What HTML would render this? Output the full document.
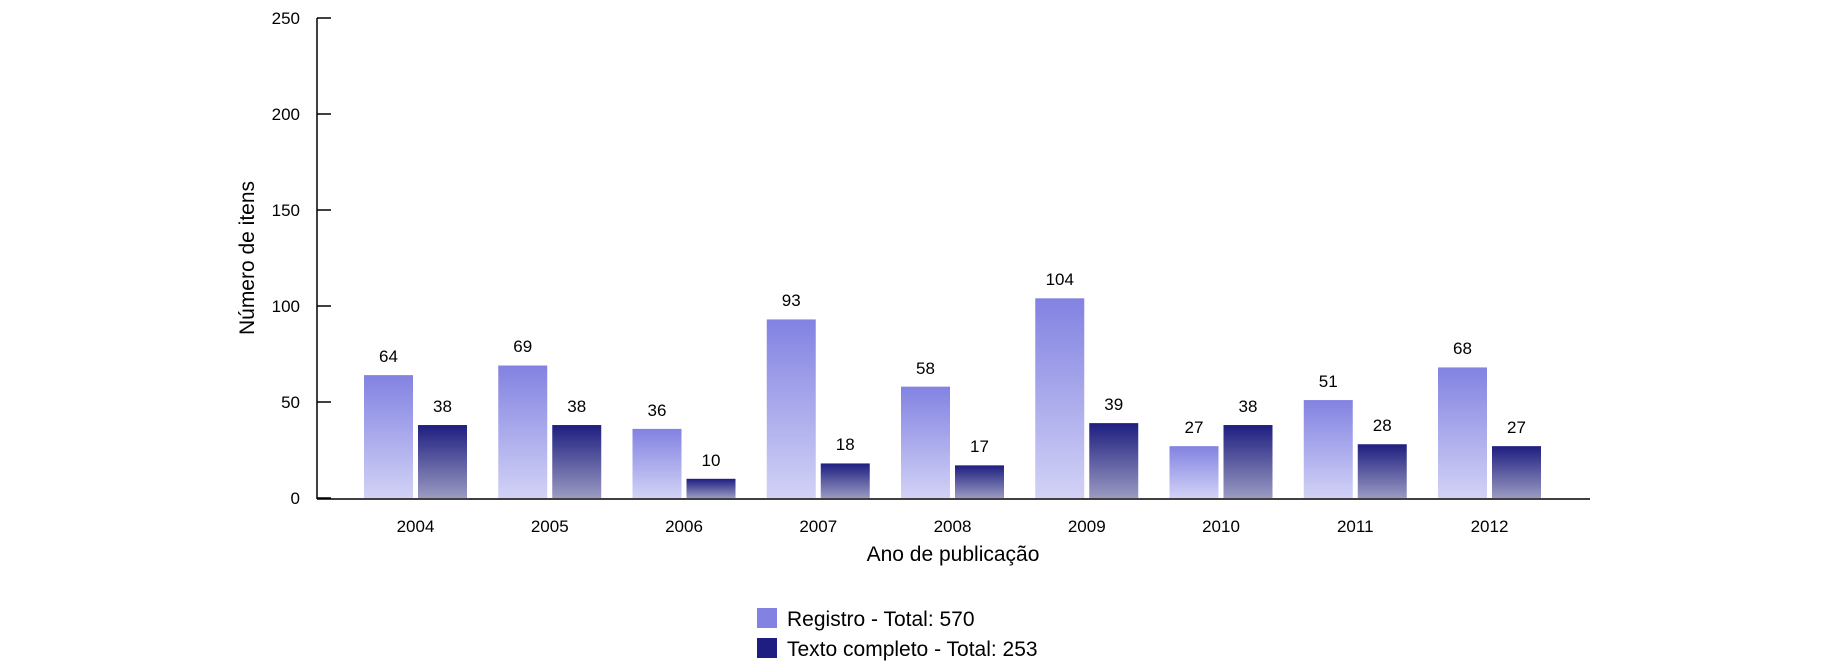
<!DOCTYPE html>
<html><head><meta charset="utf-8"><style>
html,body{margin:0;padding:0;background:#fff;}
svg{display:block;font-family:"Liberation Sans",Arial,sans-serif;}
</style></head><body>
<svg width="1826" height="671" viewBox="0 0 1826 671" xmlns="http://www.w3.org/2000/svg">
<defs>
<linearGradient id="gl" x1="0" y1="0" x2="0" y2="1"><stop offset="0" stop-color="#8282e2"/><stop offset="1" stop-color="#d2d2f6"/></linearGradient>
<linearGradient id="gd" x1="0" y1="0" x2="0" y2="1"><stop offset="0" stop-color="#1e1e80"/><stop offset="1" stop-color="#9a9ac2"/></linearGradient>
</defs>
<g stroke="#000" stroke-width="1.5">
<line x1="317" y1="18" x2="317" y2="499"/>
<line x1="317" y1="499" x2="1590" y2="499"/>
<line x1="317" y1="18" x2="331" y2="18"/>
<line x1="317" y1="114" x2="331" y2="114"/>
<line x1="317" y1="210" x2="331" y2="210"/>
<line x1="317" y1="306" x2="331" y2="306"/>
<line x1="317" y1="402" x2="331" y2="402"/>
<line x1="317" y1="498" x2="331" y2="498"/>
</g>
<g font-size="17" text-anchor="end" fill="#000">
<text x="300" y="24">250</text><text x="300" y="120">200</text><text x="300" y="216">150</text>
<text x="300" y="312">100</text><text x="300" y="408">50</text><text x="300" y="504">0</text>
</g>
<text transform="translate(254,258) rotate(-90)" font-size="21" text-anchor="middle">Número de itens</text>
<text x="953" y="561" font-size="21" text-anchor="middle">Ano de publicação</text>
<g>
<rect x="364" y="375.12" width="49" height="122.88" fill="url(#gl)"/><rect x="418" y="425.04" width="49" height="72.96" fill="url(#gd)"/>
<rect x="498.25" y="365.52" width="49" height="132.48" fill="url(#gl)"/><rect x="552.25" y="425.04" width="49" height="72.96" fill="url(#gd)"/>
<rect x="632.5" y="428.88" width="49" height="69.12" fill="url(#gl)"/><rect x="686.5" y="478.8" width="49" height="19.2" fill="url(#gd)"/>
<rect x="766.75" y="319.44" width="49" height="178.56" fill="url(#gl)"/><rect x="820.75" y="463.44" width="49" height="34.56" fill="url(#gd)"/>
<rect x="901" y="386.64" width="49" height="111.36" fill="url(#gl)"/><rect x="955" y="465.36" width="49" height="32.64" fill="url(#gd)"/>
<rect x="1035.25" y="298.32" width="49" height="199.68" fill="url(#gl)"/><rect x="1089.25" y="423.12" width="49" height="74.88" fill="url(#gd)"/>
<rect x="1169.5" y="446.16" width="49" height="51.84" fill="url(#gl)"/><rect x="1223.5" y="425.04" width="49" height="72.96" fill="url(#gd)"/>
<rect x="1303.75" y="400.08" width="49" height="97.92" fill="url(#gl)"/><rect x="1357.75" y="444.24" width="49" height="53.76" fill="url(#gd)"/>
<rect x="1438" y="367.44" width="49" height="130.56" fill="url(#gl)"/><rect x="1492" y="446.16" width="49" height="51.84" fill="url(#gd)"/>
</g>
<g font-size="17" text-anchor="middle">
<text x="388.5" y="362">64</text><text x="442.5" y="412">38</text><text x="415.5" y="532">2004</text>
<text x="522.75" y="352">69</text><text x="576.75" y="412">38</text><text x="549.75" y="532">2005</text>
<text x="657" y="416">36</text><text x="711" y="466">10</text><text x="684" y="532">2006</text>
<text x="791.25" y="306">93</text><text x="845.25" y="450">18</text><text x="818.25" y="532">2007</text>
<text x="925.5" y="374">58</text><text x="979.5" y="452">17</text><text x="952.5" y="532">2008</text>
<text x="1059.75" y="285">104</text><text x="1113.75" y="410">39</text><text x="1086.75" y="532">2009</text>
<text x="1194" y="433">27</text><text x="1248" y="412">38</text><text x="1221" y="532">2010</text>
<text x="1328.25" y="387">51</text><text x="1382.25" y="431">28</text><text x="1355.25" y="532">2011</text>
<text x="1462.5" y="354">68</text><text x="1516.5" y="433">27</text><text x="1489.5" y="532">2012</text>
</g>
<g font-size="21">
<rect x="757" y="608" width="20" height="20" fill="#8282e2"/>
<text x="787" y="626">Registro - Total: 570</text>
<rect x="757" y="638" width="20" height="20" fill="#1e1e80"/>
<text x="787" y="656">Texto completo - Total: 253</text>
</g>
</svg>
</body></html>
